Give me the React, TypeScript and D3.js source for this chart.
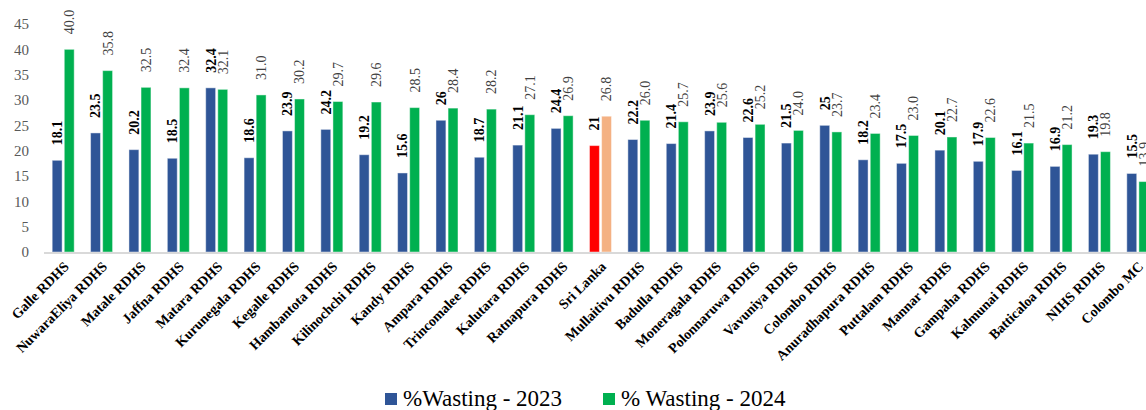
import React, { useRef, useEffect } from "react";
import * as d3 from "d3";

const categories = [
  "Galle RDHS", "NuwaraEliya RDHS", "Matale RDHS", "Jaffna RDHS", "Matara RDHS",
  "Kurunegala RDHS", "Kegalle RDHS", "Hambantota RDHS", "Kilinochchi RDHS", "Kandy RDHS",
  "Ampara RDHS", "Trincomalee RDHS", "Kalutara RDHS", "Ratnapura RDHS", "Sri Lanka",
  "Mullaitivu RDHS", "Badulla RDHS", "Moneragala RDHS", "Polonnaruwa RDHS", "Vavuniya RDHS",
  "Colombo RDHS", "Anuradhapura RDHS", "Puttalam RDHS", "Mannar RDHS", "Gampaha RDHS",
  "Kalmunai RDHS", "Batticaloa RDHS", "NIHS RDHS", "Colombo MC",
];

const wasting2023 = [
  18.1, 23.5, 20.2, 18.5, 32.4, 18.6, 23.9, 24.2, 19.2, 15.6,
  26, 18.7, 21.1, 24.4, 21, 22.2, 21.4, 23.9, 22.6, 21.5,
  25, 18.2, 17.5, 20.1, 17.9, 16.1, 16.9, 19.3, 15.5,
];

const wasting2024 = [
  40.0, 35.8, 32.5, 32.4, 32.1, 31.0, 30.2, 29.7, 29.6, 28.5,
  28.4, 28.2, 27.1, 26.9, 26.8, 26.0, 25.7, 25.6, 25.2, 24.0,
  23.7, 23.4, 23.0, 22.7, 22.6, 21.5, 21.2, 19.8, 13.9,
];

const yTicks = [0, 5, 10, 15, 20, 25, 30, 35, 40, 45];
const seriesNames = ["%Wasting - 2023", "% Wasting - 2024"];
const highlight = "Sri Lanka";

const FONT = "'Liberation Serif', 'Times New Roman', serif";
const BLUE = "#2f5597";
const GREEN = "#00b050";

const App: React.FC = () => {
  const svgRef = useRef<SVGSVGElement | null>(null);

  useEffect(() => {
    const root = d3.select(svgRef.current);
    root.selectAll("*").remove();

    const width = 1146;
    const height = 410;
    root.attr("width", width).attr("height", height);

    const x = d3.scaleBand().domain(categories).range([44, 1157]);
    const inner = d3.scaleBand().domain(["2023", "2024"]).range([0, 22]).paddingInner(0.18);
    const y = d3.scaleLinear().domain([0, 45]).range([252, 24]);
    const off = (x.bandwidth() - 22) / 2;

    // y axis labels
    root
      .append("g")
      .selectAll("text")
      .data(yTicks)
      .enter()
      .append("text")
      .attr("x", 29)
      .attr("y", (d) => y(d))
      .attr("dy", "0.35em")
      .attr("text-anchor", "end")
      .attr("font-family", FONT)
      .attr("font-size", 15)
      .attr("fill", "#595959")
      .text((d) => d);

    const rows = categories.map((c, i) => ({ c, a: wasting2023[i], b: wasting2024[i] }));

    const groups = root
      .append("g")
      .selectAll("g")
      .data(rows)
      .enter()
      .append("g")
      .attr("transform", (d) => `translate(${x(d.c)! + off},0)`);

    groups
      .append("rect")
      .attr("x", inner("2023")!)
      .attr("y", (d) => y(d.a))
      .attr("width", inner.bandwidth())
      .attr("height", (d) => y(0) - y(d.a))
      .attr("fill", (d) => (d.c === highlight ? "#ff0000" : BLUE))
      .attr("stroke", "#ffffff")
      .attr("stroke-opacity", 0.45)
      .attr("stroke-width", 1);

    groups
      .append("rect")
      .attr("x", inner("2024")!)
      .attr("y", (d) => y(d.b))
      .attr("width", inner.bandwidth())
      .attr("height", (d) => y(0) - y(d.b))
      .attr("fill", (d) => (d.c === highlight ? "#f4b183" : GREEN))
      .attr("stroke", "#ffffff")
      .attr("stroke-opacity", 0.45)
      .attr("stroke-width", 1);

    // value labels, rotated
    const cx1 = inner("2023")! + inner.bandwidth() / 2;
    const cx2 = inner("2024")! + inner.bandwidth() / 2;

    groups
      .append("text")
      .attr("transform", (d) => `translate(${cx1},${y(d.a) - 15}) rotate(-90)`)
      .attr("dy", "0.35em")
      .attr("font-family", FONT)
      .attr("font-size", 14)
      .attr("font-weight", "bold")
      .attr("fill", "#000")
      .text((d) => String(d.a));

    groups
      .append("text")
      .attr("transform", (d) => `translate(${cx2},${y(d.b) - 15}) rotate(-90)`)
      .attr("dy", "0.35em")
      .attr("font-family", FONT)
      .attr("font-size", 14)
      .attr("fill", "#404040")
      .text((d) => d.b.toFixed(1));

    // x axis line
    root
      .append("line")
      .attr("x1", 44)
      .attr("x2", width)
      .attr("y1", y(0) + 1)
      .attr("y2", y(0) + 1)
      .attr("stroke", "#d9d9d9")
      .attr("stroke-width", 2);

    // category labels
    root
      .append("g")
      .selectAll("text")
      .data(categories)
      .enter()
      .append("text")
      .attr("transform", (d) => `translate(${x(d)! + x.bandwidth() / 2 + 3},${y(0) + 12}) rotate(-45)`)
      .attr("text-anchor", "end")
      .attr("dy", "0.35em")
      .attr("font-family", FONT)
      .attr("font-size", 14)
      .attr("font-weight", "bold")
      .attr("fill", "#000")
      .text((d) => d);

    // legend
    const legend = root.append("g");
    const legendX = [385, 603];
    [BLUE, GREEN].forEach((col, i) => {
      legend
        .append("rect")
        .attr("x", legendX[i])
        .attr("y", 393)
        .attr("width", 12)
        .attr("height", 12)
        .attr("fill", col);
      legend
        .append("text")
        .attr("x", legendX[i] + 18)
        .attr("y", 406)
        .attr("font-family", FONT)
        .attr("font-size", 23)
        .attr("fill", "#000")
        .text(seriesNames[i]);
    });
  }, []);

  return (
    <svg
      ref={svgRef}
      style={{ position: "absolute", left: 0, top: 0, overflow: "hidden", background: "#fff" }}
    ></svg>
  );
};

export default App;
